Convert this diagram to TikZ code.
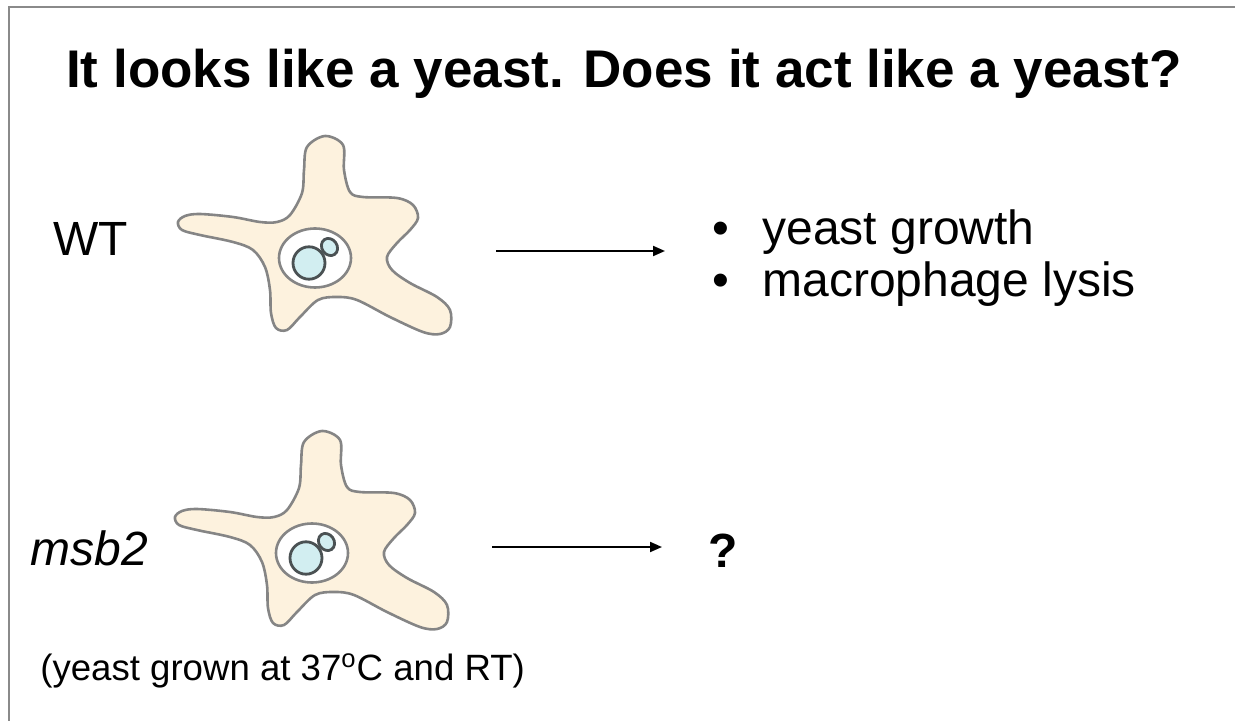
\documentclass[tikz,border=0pt]{standalone}
\usepackage{fontspec}
\setmainfont{Liberation Sans}
\usetikzlibrary{arrows.meta}
\definecolor{framegray}{HTML}{8A8A8A}
\definecolor{cellfill}{HTML}{FDF2DE}
\definecolor{celledge}{HTML}{858585}
\definecolor{yeastfill}{HTML}{D2EEF1}
\definecolor{yeastedge}{HTML}{4A5153}
\begin{document}
\begin{tikzpicture}[x=0.5pt,y=-0.5pt,
  bodytext/.style={anchor=base west,inner sep=0pt,font=\fontsize{24}{28}\selectfont},
  flow/.style={line width=1pt,-{Triangle[length=6pt,width=5pt]}},
  macrophage/.pic={
    \draw[celledge,fill=cellfill,line width=1.3pt]
      plot[smooth cycle,tension=0.55] coordinates {
        (10,-122) (28,-113) (29,-88) (35,-66) (48,-61) (82,-60) (98,-53)
        (103,-40) (95,-28) (82,-15) (72,-1) (77,12) (95,25) (122,39)
        (135,52) (135,69) (125,76) (108,74) (75,59) (42,42) (22,39)
        (3,42) (-15,59) (-28,72) (-39,70) (-44,55) (-45,32) (-50,9)
        (-62,-8) (-82,-16) (-115,-23) (-133,-28) (-137,-36) (-130,-42)
        (-115,-44) (-82,-41) (-55,-36) (-38,-36) (-25,-43) (-13,-65)
        (-11,-88) (-8,-111)};
    \draw[celledge,fill=white,line width=1.3pt] (0,0) ellipse [x radius=18pt,y radius=14.75pt];
    \draw[yeastedge,fill=yeastfill,line width=1.4pt] (14.5,-11) ellipse [x radius=3.8pt,y radius=4.5pt,rotate=35];
    \draw[yeastedge,fill=yeastfill,line width=1.4pt] (-6,5) ellipse [x radius=8pt,y radius=8.1pt];
  }]
\useasboundingbox (0,0) rectangle (1235,721);
% frame edges
\draw[framegray,line width=1.1pt] (9,721) -- (9,7) -- (1235,7);
% heading
\node[anchor=base,inner sep=0pt,font=\bfseries\fontsize{26.5}{30}\selectfont] (title) at (624,88)
  {It looks like a yeast. Does it act like a yeast?};
% wild type row
\node[bodytext] (wt) at (53,256) {WT};
\pic at (315,258) {macrophage};
\coordinate (wtstart) at (496,251);
\coordinate (wtend) at (665,251);
\draw[flow] (wtstart) -- (wtend);
\node[bodytext] (bulletA) at (712,245) {\textbullet};
\node[bodytext] (growth) at (762,245) {yeast growth};
\node[bodytext] (bulletB) at (712,297) {\textbullet};
\node[bodytext] (lysis) at (762,297) {macrophage lysis};
% mutant row
\node[bodytext] (mut) at (30,565) {\itshape msb2};
\pic at (312,553) {macrophage};
\coordinate (mutstart) at (492,547);
\coordinate (mutend) at (662,547);
\draw[flow] (mutstart) -- (mutend);
\node[bodytext,font=\bfseries\fontsize{24}{28}\selectfont] (unknown) at (708,567) {?};
\node[anchor=base west,inner sep=0pt,font=\fontsize{18.3}{22}\selectfont] (note) at (40,680)
  {(yeast grown at 37\textsuperscript{o}C and RT)};
\end{tikzpicture}
\end{document}
